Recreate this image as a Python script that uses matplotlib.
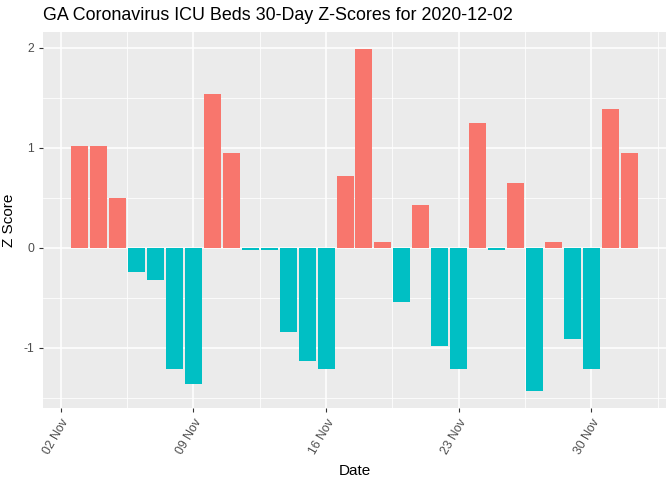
import numpy as np
import pandas as pd
import matplotlib
matplotlib.use("Agg")
import matplotlib.pyplot as plt
import matplotlib.dates as mdates
from matplotlib.transforms import ScaledTranslation

plt.rcParams["font.family"] = ["Liberation Sans", "DejaVu Sans"]

# z-scores, one per day Nov 3 .. Dec 2 2020
dates = pd.date_range("2020-11-03", "2020-12-02", freq="D")
z_scores = [1.02, 1.02, 0.50, -0.24, -0.32, -1.21, -1.36, 1.54, 0.95, -0.02,
            -0.02, -0.84, -1.13, -1.21, 0.72, 1.99, 0.06, -0.54, 0.43, -0.98,
            -1.21, 1.25, -0.02, 0.65, -1.43, 0.06, -0.91, -1.21, 1.39, 0.95]
pos_color = "#F8766D"
neg_color = "#00BFC4"

z = np.array(z_scores)
colors = [pos_color if v > 0 else neg_color for v in z]

fig = plt.figure(figsize=(6.72, 4.8), dpi=100)
ax = fig.add_axes([43/672, 1-408/480, (666-43)/672, (408-32)/480])
ax.set_facecolor("#EBEBEB")

x = mdates.date2num(dates)
ax.bar(x, z, width=0.9, color=colors, zorder=3)

# ggplot-like expansion
lo = x.min() - 0.45
hi = x.max() + 0.45
pad = (hi - lo) * 0.05
ax.set_xlim(lo - pad, hi + pad)
ax.set_ylim(-1.60, 2.16)

major = mdates.date2num(pd.date_range("2020-11-02", "2020-11-30", freq="7D"))
minor = major + 3.5
ax.set_xticks(major)
ax.set_xticklabels([d.strftime("%d %b") for d in mdates.num2date(major)],
                   rotation=60, ha="right", va="top", rotation_mode="anchor",
                   color="#4D4D4D", fontsize=8.8)
shift = ScaledTranslation(2/100, -3/100, fig.dpi_scale_trans)
for lab in ax.get_xticklabels():
    lab.set_transform(lab.get_transform() + shift)
ax.set_xticks(minor, minor=True)
ax.set_yticks([-1, 0, 1, 2])
ax.set_yticklabels(["-1", "0", "1", "2"], color="#4D4D4D", fontsize=8.8)
ax.set_yticks([-1.5, -0.5, 0.5, 1.5], minor=True)

ax.grid(which="major", color="white", linewidth=1.1, zorder=0)
ax.grid(which="minor", color="white", linewidth=0.55, zorder=0)
ax.set_axisbelow(True)
ax.tick_params(which="major", length=3, color="#333333", width=0.8)
ax.tick_params(which="minor", length=0)
for s in ax.spines.values():
    s.set_visible(False)

ax.set_xlabel("Date", fontsize=11, labelpad=5)
ax.set_ylabel("Z Score", fontsize=11, labelpad=5)
ax.set_title("GA Coronavirus ICU Beds 30-Day Z-Scores for 2020-12-02",
             loc="left", fontsize=12.9, pad=9)

fig.savefig("out.png", dpi=100)
